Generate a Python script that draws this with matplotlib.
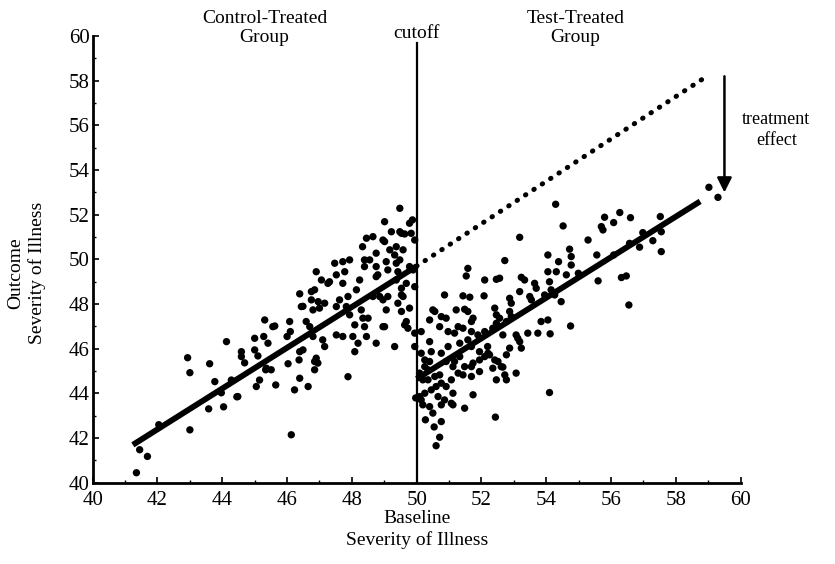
import matplotlib
matplotlib.use('Agg')
from matplotlib import pyplot as plt
from matplotlib.ticker import MultipleLocator

# Control-treated group (baseline < 50)
control_x = [41.35, 41.69, 41.45, 43.00, 42.04, 42.93, 43.00, 43.61, 44.13, 43.58,
             44.04, 43.77, 43.97, 44.45, 44.28, 44.59, 44.69, 45.00, 45.05, 45.15,
             45.28, 45.31, 45.34, 46.13, 44.48, 44.59, 45.00, 45.10, 45.41, 45.62,
             45.36, 45.51, 45.65, 46.03, 46.08, 46.10, 46.00, 46.39, 46.75, 46.90,
             47.06, 47.26, 46.49, 46.59, 46.80, 47.00, 47.16, 46.39, 46.37, 46.39,
             46.65, 46.23, 46.85, 46.95, 46.49, 46.80, 47.10, 47.16, 46.90, 47.88,
             46.85, 45.56, 46.85, 47.31, 47.47, 47.72, 47.93, 47.52, 47.78, 48.45,
             48.65, 49.01, 49.22, 49.48, 49.53, 49.78, 49.83, 49.01, 48.75, 48.33,
             48.39, 48.55, 49.17, 49.32, 49.37, 49.06, 49.11, 49.58, 48.75, 48.75,
             48.24, 48.14, 47.88, 47.62, 47.52, 46.96, 47.83, 47.93, 48.29, 48.34,
             48.50, 48.39, 48.09, 48.03, 47.72, 47.52, 48.19, 48.09, 48.45, 48.75,
             48.96, 49.32, 49.63, 49.68, 49.53, 49.78, 49.42, 49.06, 48.96, 48.86,
             48.65, 49.53, 49.58, 49.68, 49.37, 49.89, 49.94, 49.94, 49.94, 49.97,
             49.94, 49.87, 46.70, 46.44, 46.75, 49.48, 49.63, 48.96, 49.37, 47.72,
             48.39, 49.48, 49.42, 49.78, 48.80, 49.11, 49.53, 49.01, 49.73]
control_y = [40.45, 41.18, 41.48, 42.37, 42.60, 45.60, 44.93, 45.33, 46.32, 43.31,
             43.40, 44.53, 44.03, 43.85, 44.60, 45.87, 45.37, 45.95, 44.31, 44.60,
             46.55, 47.29, 45.06, 42.15, 43.86, 45.65, 46.47, 45.68, 46.25, 47.02,
             45.13, 45.06, 44.38, 45.33, 47.22, 46.77, 46.55, 48.46, 48.56, 49.45,
             49.08, 48.93, 47.90, 47.22, 47.74, 47.82, 48.04, 45.87, 45.50, 44.68,
             44.31, 44.16, 45.06, 45.36, 45.95, 46.55, 46.40, 46.10, 45.58, 44.75,
             45.43, 46.99, 48.64, 49.00, 49.83, 49.90, 49.98, 49.31, 49.45, 50.95,
             51.02, 51.69, 51.24, 52.29, 51.17, 51.62, 51.17, 50.80, 50.28, 50.57,
             49.98, 49.98, 50.43, 50.20, 49.83, 49.90, 49.53, 50.43, 49.68, 49.23,
             49.08, 48.64, 48.34, 48.19, 47.89, 48.11, 47.89, 47.52, 47.74, 47.37,
             47.37, 46.99, 47.07, 46.55, 46.55, 46.62, 46.25, 45.87, 46.55, 46.25,
             46.99, 46.10, 47.07, 47.22, 47.67, 47.82, 48.04, 47.74, 48.19, 48.34,
             48.34, 48.71, 48.34, 48.93, 49.08, 49.53, 48.78, 46.70, 46.10, 43.80,
             50.87, 51.77, 46.99, 47.89, 48.19, 51.24, 51.14, 50.87, 50.57, 48.93,
             49.68, 49.98, 49.45, 49.68, 49.31, 48.34, 48.41, 46.99, 46.92]

# Test-treated group (baseline >= 50)
treated_x = [54.52, 53.18, 54.72, 54.77, 54.05, 54.38, 54.62, 54.31, 54.05, 54.10,
             54.15, 52.72, 51.58, 51.53, 52.10, 52.46, 52.56, 53.23, 53.33, 53.64,
             53.69, 53.18, 53.49, 53.54, 53.95, 50.86, 51.43, 51.64, 52.08, 52.87,
             52.92, 51.22, 51.48, 51.58, 52.41, 52.46, 52.56, 52.87, 52.92, 50.50,
             50.76, 50.91, 50.40, 51.74, 51.69, 50.71, 51.28, 50.97, 51.17, 51.43,
             51.69, 51.89, 52.10, 52.35, 52.66, 53.07, 53.18, 53.23, 53.43, 53.74,
             54.05, 54.12, 54.75, 52.87, 52.77, 52.41, 52.61, 52.35, 52.72, 52.77,
             52.46, 53.07, 52.20, 51.94, 51.69, 51.48, 51.28, 51.07, 50.91, 51.12,
             50.76, 50.56, 50.35, 50.25, 50.14, 50.45, 50.76, 50.97, 50.25, 50.09,
             50.19, 50.45, 50.25, 50.66, 50.86, 50.14, 50.40, 51.07, 51.74, 51.48,
             50.50, 50.27, 50.76, 50.54, 50.71, 50.60, 52.43, 54.10, 51.94, 52.19,
             51.69, 51.33, 51.17, 51.74, 52.10, 51.94, 50.56, 50.14, 50.40, 51.33,
             51.58, 52.46, 52.77, 53.12, 52.51, 52.66, 51.69, 51.12, 50.91, 50.40,
             50.35, 50.71, 51.43, 50.60, 50.09, 51.12, 50.76, 50.19, 52.25, 59.02,
             59.30, 54.29, 55.80, 56.27, 56.60, 56.08, 55.70, 55.75, 57.52, 55.29,
             56.98, 57.55, 57.29, 56.88, 57.55, 56.57, 56.08, 55.56, 54.77, 54.99,
             54.26, 54.46, 55.60, 56.32, 56.47, 56.55, 53.84]
treated_y = [51.50, 50.99, 50.46, 50.13, 50.20, 49.90, 49.31, 49.45, 49.45, 49.00,
             48.64, 49.95, 49.60, 49.26, 49.08, 49.11, 49.16, 49.20, 49.08, 48.93,
             48.71, 48.56, 48.34, 48.19, 48.41, 48.41, 48.37, 48.31, 48.37, 48.26,
             48.04, 47.74, 47.77, 47.67, 47.82, 47.52, 47.37, 47.67, 47.44, 47.74,
             47.44, 47.37, 47.29, 47.37, 47.22, 46.99, 46.99, 46.77, 46.70, 46.92,
             46.77, 46.62, 46.77, 46.92, 46.62, 46.62, 46.32, 46.03, 46.70, 46.70,
             47.29, 46.67, 47.02, 46.03, 45.73, 45.50, 45.20, 45.13, 44.83, 44.61,
             44.61, 44.91, 45.80, 44.98, 44.76, 45.20, 44.91, 44.61, 44.31, 44.01,
             44.46, 44.76, 45.06, 45.50, 45.80, 45.87, 45.80, 46.10, 45.20, 44.91,
             44.61, 44.16, 44.01, 43.86, 43.71, 43.71, 43.41, 43.56, 43.94, 43.34,
             43.12, 42.82, 42.74, 42.50, 42.04, 41.66, 42.94, 44.04, 45.87, 46.10,
             46.10, 45.65, 45.43, 45.36, 45.65, 45.50, 47.67, 46.77, 46.32, 46.25,
             46.40, 47.14, 47.22, 46.47, 45.43, 45.18, 45.20, 45.20, 45.43, 45.43,
             44.61, 44.83, 44.83, 44.31, 43.86, 43.49, 43.49, 43.49, 45.73, 53.23,
             52.78, 52.47, 51.89, 52.10, 51.87, 51.65, 51.47, 51.32, 51.92, 50.87,
             51.20, 51.24, 50.84, 50.55, 50.35, 50.72, 50.20, 50.20, 49.75, 49.38,
             48.41, 48.11, 49.04, 49.19, 49.26, 47.96, 47.22]

# Regression lines and the projected (no effect) line
control_line_x = [41.24, 50.0]
control_line_y = [41.7, 49.7]
treated_line_x = [50.0, 58.75]
treated_line_y = [44.65, 52.6]
projected_x = [50.0, 58.85]
projected_y = [49.7, 58.1]

cutoff = 50
effect_x = 59.5
effect_top, effect_bottom = 58.2, 53.0

plt.rcParams['font.family'] = ['Liberation Serif', 'DejaVu Serif']

fig = plt.figure(figsize=(8.35, 5.64), dpi=100)
ax = fig.add_axes([0.111, 0.144, 0.776, 0.792])

ax.scatter(control_x, control_y, s=28, c='black', edgecolors='none', zorder=3)
ax.scatter(treated_x, treated_y, s=28, c='black', edgecolors='none', zorder=3)

ax.plot(control_line_x, control_line_y, c='black', lw=4.2, solid_capstyle='butt', zorder=4)
ax.plot(treated_line_x, treated_line_y, c='black', lw=4.2, solid_capstyle='butt', zorder=4)
ax.plot(projected_x, projected_y, c='black', lw=3.6,
        linestyle=(0, (0.1, 1.9)), dash_capstyle='round', zorder=4)

# Линия отсечения
ax.plot([cutoff, cutoff], [40, 59.7], c='black', lw=1.6, clip_on=False, zorder=5)

# Стрелка эффекта лечения
ax.annotate('', xy=(effect_x, effect_bottom), xytext=(effect_x, effect_top),
            arrowprops=dict(arrowstyle='-|>', color='black', lw=1.8,
                            mutation_scale=22, shrinkA=0, shrinkB=0),
            annotation_clip=False)

ax.set_xlim(40, 60)
ax.set_ylim(40, 60)
ax.xaxis.set_major_locator(MultipleLocator(2))
ax.yaxis.set_major_locator(MultipleLocator(2))
ax.xaxis.set_minor_locator(MultipleLocator(1))
ax.yaxis.set_minor_locator(MultipleLocator(1))
ax.spines['top'].set_visible(False)
ax.spines['right'].set_visible(False)
ax.spines['left'].set_linewidth(2)
ax.spines['bottom'].set_linewidth(2)
ax.tick_params(axis='both', which='major', direction='in', length=4, width=1.2,
               labelsize=15)
ax.tick_params(axis='x', which='major', pad=6)
ax.tick_params(axis='y', which='major', pad=2)
ax.tick_params(axis='both', which='minor', direction='in', length=2, width=1)

ax.set_xlabel('Baseline\nSeverity of Illness', fontsize=14, linespacing=1.3, labelpad=0)
ax.set_ylabel('Outcome\nSeverity of Illness', fontsize=14, linespacing=1.3)
ax.yaxis.set_label_coords(-0.072, 0.47)

ax.text(45.3, 60.35, 'Control-Treated\nGroup', fontsize=14, ha='center', va='center',
        linespacing=1.15)
ax.text(50.0, 60.12, 'cutoff', fontsize=14, ha='center', va='center')
ax.text(54.9, 60.35, 'Test-Treated\nGroup', fontsize=14, ha='center', va='center',
        linespacing=1.15)
ax.text(61.1, 55.8, 'treatment\neffect', fontsize=13, ha='center', va='center',
        linespacing=1.25, clip_on=False)

fig.savefig('out.png', dpi=100)
